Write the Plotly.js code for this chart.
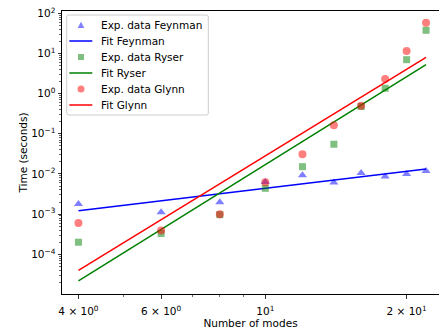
<!DOCTYPE html>
<html>
<head>
<meta charset="utf-8">
<script src="https://cdn.plot.ly/plotly-3.0.1.min.js"></script>
<style>html,body{margin:0;padding:0;background:#fff;}#chart{width:439px;height:333px;}</style>
</head>
<body>
<div id="chart"></div>
<script>
// Data
const modes = [4, 6, 8, 10, 12, 14, 16, 18, 20, 22];
const feynmanTimes = [1.79e-3, 1.11e-3, 1.97e-3, 6.3e-3, 9.3e-3, 6.1e-3, 1.05e-2, 8.6e-3, 1.0e-2, 1.19e-2];
const ryserTimes = [2.0e-4, 3.3e-4, 9.7e-4, 4.4e-3, 1.52e-2, 5.5e-2, 0.48, 1.36, 7.0, 37.8];
const glynnTimes = [6.0e-4, 3.9e-4, 1.0e-3, 6.2e-3, 3.1e-2, 0.163, 0.50, 2.31, 11.5, 58.4];
const fitModes = [4, 22];
const fitFeynman = [1.22e-3, 1.33e-2];
const fitRyser = [2.17e-5, 5.25];
const fitGlynn = [4.0e-5, 8.0];

const seriesNames = ['Exp. data Feynman', 'Fit Feynman', 'Exp. data Ryser', 'Fit Ryser', 'Exp. data Glynn', 'Fit Glynn'];

const xTickVals = [4, 6, 10, 20];
const xTickText = ['4 × 10<sup>0</sup>', '6 × 10<sup>0</sup>', '10<sup>1</sup>', '2 × 10<sup>1</sup>'];
const yTickVals = [1e-4, 1e-3, 1e-2, 1e-1, 1, 10, 100];
const yTickText = ['10<sup>−4</sup>', '10<sup>−3</sup>', '10<sup>−2</sup>', '10<sup>−1</sup>', '10<sup>0</sup>', '10<sup>1</sup>', '10<sup>2</sup>'];

const xMinor = [5, 7, 8, 9];
const yMinor = [];
for (let e = -5; e <= 2; e++) {
  for (let m = 2; m <= 9; m++) yMinor.push(m * Math.pow(10, e));
}

const font = {family: 'DejaVu Sans', size: 10.5, color: '#000'};
const blueM = 'rgba(0,0,255,0.5)', greenM = 'rgba(0,128,0,0.5)', redM = 'rgba(255,0,0,0.5)';

const traces = [
  {x: modes, y: feynmanTimes, mode: 'markers', type: 'scatter', name: seriesNames[0],
   marker: {symbol: 'triangle-up', size: 8, color: blueM}},
  {x: fitModes, y: fitFeynman, mode: 'lines', type: 'scatter', name: seriesNames[1],
   line: {color: '#0000ff', width: 1.5}},
  {x: modes, y: ryserTimes, mode: 'markers', type: 'scatter', name: seriesNames[2],
   marker: {symbol: 'square', size: 7, color: greenM}},
  {x: fitModes, y: fitRyser, mode: 'lines', type: 'scatter', name: seriesNames[3],
   line: {color: '#008000', width: 1.5}},
  {x: modes, y: glynnTimes, mode: 'markers', type: 'scatter', name: seriesNames[4],
   marker: {symbol: 'circle', size: 8, color: redM}},
  {x: fitModes, y: fitGlynn, mode: 'lines', type: 'scatter', name: seriesNames[5],
   line: {color: '#ff0000', width: 1.5}}
];

// Manual compact legend (matplotlib-like spacing), in pixel -> paper coordinates
const M = {l: 62, r: 0, t: 11, b: 39};
const PW = 439 - M.l - M.r, PH = 333 - M.t - M.b;
const px = X => (X - M.l) / PW;
const py = Y => 1 - (Y - M.t) / PH;
const shapes = [];
const annotations = [];
shapes.push({type: 'path', xref: 'paper', yref: 'paper',
  path: (() => {
    const x0 = 66.7, x1 = 208.3, y0 = 15, y1 = 115, r = 2;
    return `M ${px(x0 + r)} ${py(y0)} L ${px(x1 - r)} ${py(y0)} Q ${px(x1)} ${py(y0)} ${px(x1)} ${py(y0 + r)} ` +
      `L ${px(x1)} ${py(y1 - r)} Q ${px(x1)} ${py(y1)} ${px(x1 - r)} ${py(y1)} L ${px(x0 + r)} ${py(y1)} ` +
      `Q ${px(x0)} ${py(y1)} ${px(x0)} ${py(y1 - r)} L ${px(x0)} ${py(y0 + r)} Q ${px(x0)} ${py(y0)} ${px(x0 + r)} ${py(y0)} Z`;
  })(),
  fillcolor: 'rgba(255,255,255,0.8)', line: {color: '#cccccc', width: 1}});
const legendStyles = [
  {kind: 'triangle', color: blueM},
  {kind: 'line', color: '#0000ff'},
  {kind: 'square', color: greenM},
  {kind: 'line', color: '#008000'},
  {kind: 'circle', color: redM},
  {kind: 'line', color: '#ff0000'}
];
legendStyles.forEach((s, i) => {
  const cy = 25 + 16 * i, cx = 81;
  if (s.kind === 'line') {
    shapes.push({type: 'line', xref: 'paper', yref: 'paper', x0: px(69.3), x1: px(92.3), y0: py(cy), y1: py(cy),
      line: {color: s.color, width: 1.5}});
  } else if (s.kind === 'triangle') {
    shapes.push({type: 'path', xref: 'paper', yref: 'paper',
      path: `M ${px(cx)} ${py(cy - 3.3)} L ${px(cx + 3.3)} ${py(cy + 3)} L ${px(cx - 3.3)} ${py(cy + 3)} Z`,
      fillcolor: s.color, line: {width: 0}});
  } else if (s.kind === 'square') {
    shapes.push({type: 'rect', xref: 'paper', yref: 'paper', x0: px(cx - 3), x1: px(cx + 3), y0: py(cy - 3), y1: py(cy + 3),
      fillcolor: s.color, line: {width: 0}});
  } else {
    shapes.push({type: 'circle', xref: 'paper', yref: 'paper', x0: px(cx - 3.5), x1: px(cx + 3.5), y0: py(cy - 3.5), y1: py(cy + 3.5),
      fillcolor: s.color, line: {width: 0}});
  }
  annotations.push({xref: 'paper', yref: 'paper', x: px(100.3), y: py(cy), xanchor: 'left', yanchor: 'middle',
    text: seriesNames[i], showarrow: false, font: font, borderpad: 0});
});

const layout = {
  width: 439, height: 333,
  margin: M,
  paper_bgcolor: '#fff', plot_bgcolor: '#fff',
  font: font,
  showlegend: false,
  shapes: shapes,
  annotations: annotations,
  xaxis: {type: 'log', range: [0.567, 1.370], showgrid: false, zeroline: false,
    showline: true, linecolor: '#000', linewidth: 1, mirror: true,
    ticks: 'outside', ticklen: 3.5, tickwidth: 0.8, tickcolor: '#000',
    tickmode: 'array', tickvals: xTickVals, ticktext: xTickText,
    tickfont: font, ticklabelstandoff: 4,
    minor: {tickmode: 'array', tickvals: xMinor, ticks: 'outside', ticklen: 2, tickwidth: 0.6, tickcolor: '#000', showgrid: false},
    title: {text: 'Number of modes', font: font, standoff: 3}},
  yaxis: {type: 'log', range: [-4.988, 2.057], showgrid: false, zeroline: false,
    showline: true, linecolor: '#000', linewidth: 1,
    ticks: 'outside', ticklen: 3.5, tickwidth: 0.8, tickcolor: '#000',
    tickmode: 'array', tickvals: yTickVals, ticktext: yTickText,
    tickfont: font,
    minor: {tickmode: 'array', tickvals: yMinor, ticks: 'outside', ticklen: 2, tickwidth: 0.6, tickcolor: '#000', showgrid: false},
    title: {text: 'Time (seconds)', font: font, standoff: 1}}
};

Plotly.newPlot('chart', traces, layout, {staticPlot: true, displayModeBar: false});
</script>
</body>
</html>
